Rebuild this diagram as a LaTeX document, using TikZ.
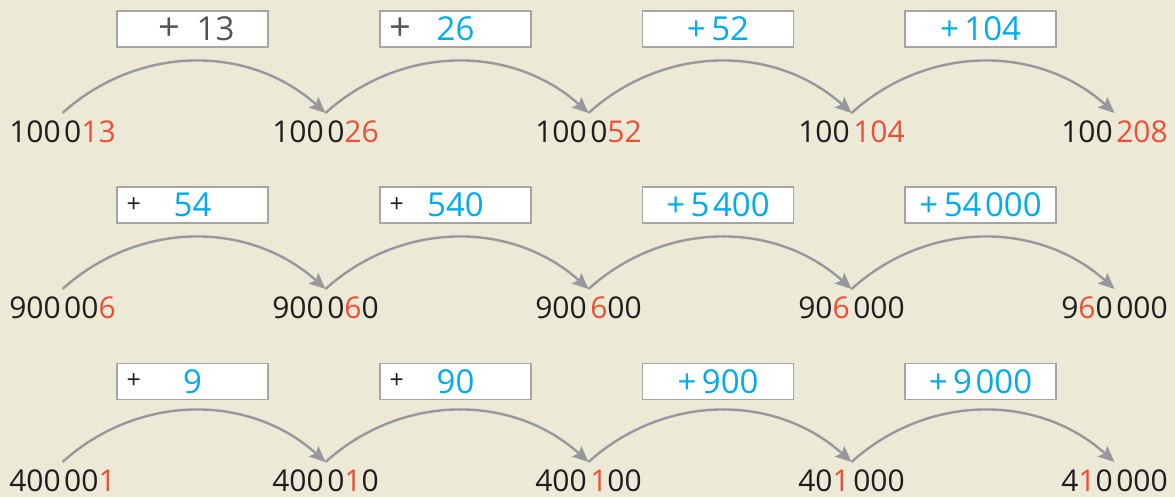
\documentclass[tikz,border=0pt]{standalone}
\usepackage{fontspec}
\setmainfont{Open Sans}
\usepackage{tikz}
\usetikzlibrary{arrows.meta, positioning}
\definecolor{bgbeige}{RGB}{236,233,214}
\definecolor{digitred}{RGB}{234,80,55}
\definecolor{opblue}{RGB}{0,172,236}
\definecolor{arcgray}{RGB}{150,152,156}
\definecolor{boxedge}{RGB}{165,165,165}
\definecolor{plusgray}{RGB}{85,85,85}
\definecolor{ink}{RGB}{30,30,30}
\tikzset{
  numnode/.style={anchor=base,inner sep=0pt,outer ysep=9pt,text height=21pt,text depth=0pt,
                  font=\fontsize{30}{30}\selectfont,text=ink},
  opbox/.style={rectangle,draw=boxedge,line width=1.4pt,fill=white,minimum width=151pt,minimum height=36pt,
                inner sep=0pt,font=\fontsize{33}{33}\selectfont,text=opblue},
  plussmall/.style={inner sep=0pt,font=\fontsize{25}{25}\selectfont,text=ink},
  plusbig/.style={inner sep=0pt,font=\fontsize{38}{38}\selectfont,text=plusgray},
  jumparr/.style={-{Stealth[length=16pt,width=14pt,inset=3pt]},line width=2.4pt,color=arcgray,bend left=42}
}
\newcommand{\red}[1]{\textcolor{digitred}{#1}}
\newcommand{\gap}{\kern3.5pt}

\begin{document}
\begin{tikzpicture}[x=1pt,y=1pt]
  \useasboundingbox (0,0) rectangle (1175,497);
  \fill[bgbeige] (0,0) rectangle (1175,497);

  % row 1
  \node[numnode] (n11) at (62.5,354)  {100\gap0\red{13}};
  \node[numnode] (n12) at (325.5,354) {100\gap0\red{26}};
  \node[numnode] (n13) at (588.5,354) {100\gap0\red{52}};
  \node[numnode] (n14) at (851.5,354) {100\gap\red{104}};
  \node[numnode] (n15) at (1114.5,354) {100\gap\red{208}};

  \node[opbox,text=plusgray] (b11) at (192.5,468) {\hspace{8pt}{\fontsize{38}{38}\selectfont+}\enspace13};
  \node[opbox] (b12) at (455.5,468) {26};
  \node[plusbig,right=10pt of b12.west] (p12) {+};
  \node[opbox] (b13) at (718,468) {+\,52};
  \node[opbox] (b14) at (980.5,468) {+\,104};

  \draw[jumparr] (n11.north) to (n12.north);
  \draw[jumparr] (n12.north) to (n13.north);
  \draw[jumparr] (n13.north) to (n14.north);
  \draw[jumparr] (n14.north) to (n15.north);

  % row 2
  \node[numnode] (n21) at (62.5,178)  {900\gap00\red{6}};
  \node[numnode] (n22) at (325.5,178) {900\gap0\red{6}0};
  \node[numnode] (n23) at (588.5,178) {900\gap\red{6}00};
  \node[numnode] (n24) at (851.5,178) {90\red{6}\gap000};
  \node[numnode] (n25) at (1114.5,178) {9\red{6}0\gap000};

  \node[opbox] (b21) at (192.5,292) {54};
  \node[plussmall,right=10pt of b21.west] (p21) {+};
  \node[opbox] (b22) at (455.5,292) {540};
  \node[plussmall,right=10pt of b22.west] (p22) {+};
  \node[opbox] (b23) at (718,292) {+\,5\gap400};
  \node[opbox] (b24) at (980.5,292) {+\,54\gap000};

  \draw[jumparr] (n21.north) to (n22.north);
  \draw[jumparr] (n22.north) to (n23.north);
  \draw[jumparr] (n23.north) to (n24.north);
  \draw[jumparr] (n24.north) to (n25.north);

  % row 3
  \node[numnode] (n31) at (62.5,5)  {400\gap00\red{1}};
  \node[numnode] (n32) at (325.5,5) {400\gap0\red{1}0};
  \node[numnode] (n33) at (588.5,5) {400\gap\red{1}00};
  \node[numnode] (n34) at (851.5,5) {40\red{1}\gap000};
  \node[numnode] (n35) at (1114.5,5) {4\red{1}0\gap000};

  \node[opbox] (b31) at (192.5,115.5) {9};
  \node[plussmall,right=10pt of b31.west] (p31) {+};
  \node[opbox] (b32) at (455.5,115.5) {90};
  \node[plussmall,right=10pt of b32.west] (p32) {+};
  \node[opbox] (b33) at (718,115.5) {+\,900};
  \node[opbox] (b34) at (980.5,115.5) {+\,9\gap000};

  \draw[jumparr] (n31.north) to (n32.north);
  \draw[jumparr] (n32.north) to (n33.north);
  \draw[jumparr] (n33.north) to (n34.north);
  \draw[jumparr] (n34.north) to (n35.north);
\end{tikzpicture}
\end{document}
